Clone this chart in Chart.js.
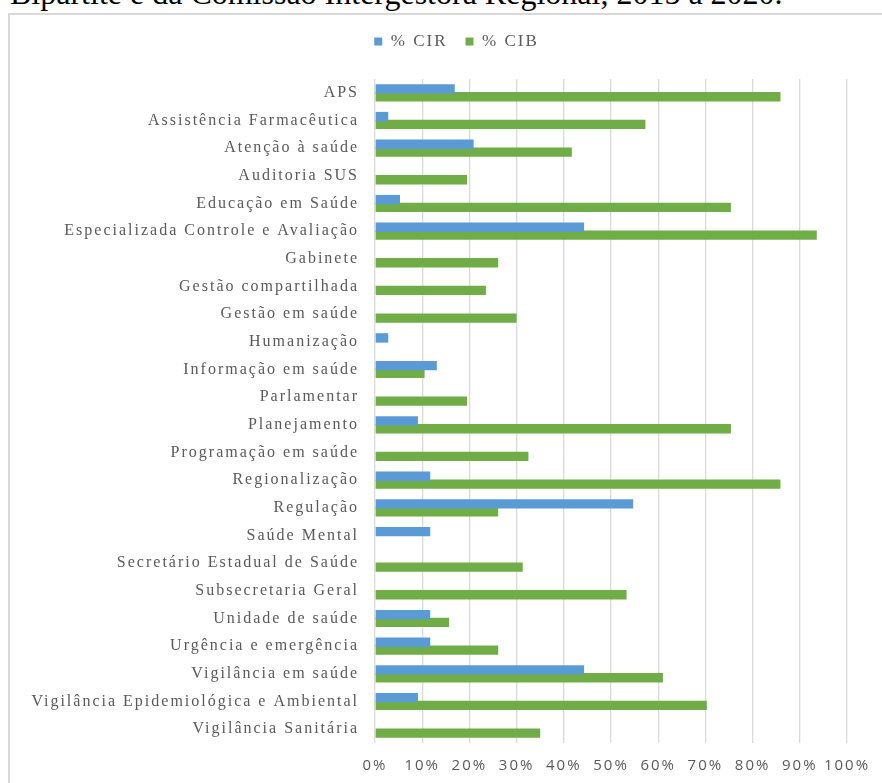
<!DOCTYPE html>
<html>
<head>
<meta charset="utf-8">
<script src="https://cdn.jsdelivr.net/npm/chart.js@4"></script>
<style>
	body {margin: 0; background: #fff; overflow: hidden; width: 882px; height: 783px; position: relative;}
	#caption {position: absolute; left: 10px; top: -23px; font: 32px/32px 'Liberation Serif', serif; color: #000; white-space: nowrap;}
	#box {position: absolute; left: 8px; top: 13px; width: 954px; height: 790px; border: 2px solid #d9d9d9;}
</style>
</head>
<body>
<div id="caption">Bipartite e da Comissão Intergestora Regional, 2015 a 2020.</div>
<div id="box"><canvas id="chart"></canvas></div>
<script>
const categories = [
	'APS', 'Assistência Farmacêutica', 'Atenção à saúde', 'Auditoria SUS', 'Educação em Saúde',
	'Especializada Controle e Avaliação', 'Gabinete', 'Gestão compartilhada', 'Gestão em saúde',
	'Humanização', 'Informação em saúde', 'Parlamentar', 'Planejamento', 'Programação em saúde',
	'Regionalização', 'Regulação', 'Saúde Mental', 'Secretário Estadual de Saúde', 'Subsecretaria Geral',
	'Unidade de saúde', 'Urgência e emergência', 'Vigilância em saúde',
	'Vigilância Epidemiológica e Ambiental', 'Vigilância Sanitária'
];

// % CIR (blue)
const cir_values = [16.9, 2.8, 20.9, 0, 5.3, 44.3, 0, 0, 0, 2.8, 13.1, 0, 9.1, 0, 11.7, 54.7, 11.7, 0, 0, 11.7, 11.7, 44.3, 9.1, 0];
// % CIB (green)
const cib_values = [85.9, 57.3, 41.7, 19.5, 75.4, 93.6, 26.1, 23.5, 30.0, 0, 10.5, 19.5, 75.4, 32.5, 85.9, 26.1, 0, 31.3, 53.3, 15.7, 26.1, 61.0, 70.3, 35.0];

const series_labels = ['% CIR', '% CIB'];
const x_ticks = [0, 10, 20, 30, 40, 50, 60, 70, 80, 90, 100];

const ctx = document.getElementById('chart');
const text_color = '#595959';

// Excel-like wide letter spacing on every canvas text
const spacing_plugin = {
	id: 'spacing',
	beforeUpdate: chart => {chart.ctx.letterSpacing = '2px';},
	beforeDraw: chart => {chart.ctx.letterSpacing = '2px';},
	beforeLayout: chart => {
		// leave a gap between the legend and the plot, like the original
		if (chart.legend && !chart.legend._padded) {
			const fit = chart.legend.fit;
			chart.legend.fit = function () {
				fit.call(this);
				this.height += 19;
			};
			chart.legend._padded = true;
		}
	},
	afterLayout: chart => {
		// the legend sits a bit right of the canvas centre in the original
		chart.legend.left += 28;
		chart.legend.right += 28;
	}
};

new Chart(ctx, {
	type: 'bar',
	data: {
		labels: categories,
		datasets: [{
			label: series_labels[0],
			data: cir_values,
			backgroundColor: '#5b9bd5',
			categoryPercentage: 0.566,
			barPercentage: 1.2
		}, {
			label: series_labels[1],
			data: cib_values,
			backgroundColor: '#70ad47',
			categoryPercentage: 0.566,
			barPercentage: 1.2
		}]
	},
	options: {
		indexAxis: 'y',
		responsive: true,
		maintainAspectRatio: false,
		animation: false,
		layout: {
			padding: {left: 0, right: 117, top: 0, bottom: 12}
		},
		plugins: {
			legend: {
				display: true,
				position: 'top',
				labels: {
					boxWidth: 8,
					boxHeight: 8,
					padding: 18,
					color: text_color,
					font: {family: 'Liberation Serif', size: 17}
				}
			},
			tooltip: {enabled: false}
		},
		scales: {
			x: {
				min: 0,
				max: 100,
				afterBuildTicks: scale => {
					scale.ticks = x_ticks.map(value => ({value}));
				},
				afterFit: scale => {scale.height = 50;},
				grid: {
					color: '#d9d9d9',
					lineWidth: 1.3,
					drawTicks: false
				},
				border: {display: false},
				ticks: {
					padding: 14,
					color: text_color,
					autoSkip: false,
					maxRotation: 0,
					minRotation: 0,
					font: {family: 'Open Sans', size: 15},
					callback: value => `${value}%`
				}
			},
			y: {
				afterFit: scale => {scale.width = 365;},
				grid: {display: false, drawTicks: false},
				border: {display: false},
				ticks: {
					padding: 16,
					color: text_color,
					autoSkip: false,
					font: {family: 'Liberation Serif', size: 16}
				}
			}
		}
	},
	plugins: [spacing_plugin]
});
</script>
</body>
</html>
